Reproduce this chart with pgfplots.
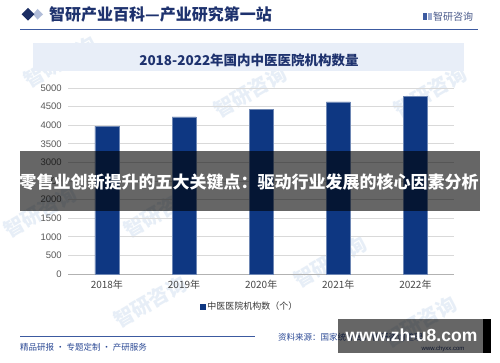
\documentclass[border=0pt]{standalone}
\usepackage{fontspec}
\usepackage{pgfplots}
\pgfplotsset{compat=1.18}
\setmainfont{Noto Sans CJK SC}
\newfontfamily\lsans{Liberation Sans}
\definecolor{barblue}{RGB}{14,55,130}
\definecolor{navy}{RGB}{30,50,110}
\definecolor{linebl}{RGB}{60,90,160}
\definecolor{boxbl}{RGB}{232,238,248}
\definecolor{ticktxt}{RGB}{89,89,89}
\definecolor{gridc}{RGB}{217,217,217}
\definecolor{footbl}{RGB}{45,75,150}
\definecolor{wm}{RGB}{215,228,242}
\begin{document}
\begin{tikzpicture}[x=1pt,y=1pt]
\useasboundingbox (0,0) rectangle (500,362);
\fill[white] (0,0) rectangle (500,362);
% faint watermarks
\foreach \px/\py in {60/300,250/270,430/270,160/150,330/100,150/60,420/40,40/150}{
  \node[rotate=30,text=wm,font=\bfseries\fontsize{20}{20}\selectfont,opacity=0.6] at (\px,\py) {智研咨询};
}
% header
\fill[linebl!40] (33,362-14.3) -- (37.5,362-9) -- (43,362-14.3) -- (37.5,362-19.6) -- cycle;
\fill[navy!90!black] (21.7,362-14.3) -- (28,362-8) -- (34.3,362-14.3) -- (28,362-20.6) -- cycle;
\node[anchor=west,inner sep=0pt,text=navy,font=\bfseries\fontsize{16}{16}\selectfont] at (49,362-14.5) {智研产业百科—产业研究第一站};
\draw[linebl,line width=1pt] (20,362-29.3) -- (478,362-29.3);
\fill[linebl] (423,362-20) rectangle (427,362-13);
\fill[linebl!50] (428,362-20) rectangle (432,362-13);
\node[anchor=west,inner sep=0pt,text=navy!80,font=\fontsize{10}{10}\selectfont] at (433,362-17) {智研咨询};
% title box
\fill[boxbl] (33,362-71) rectangle (464,362-43);
\node[text=navy,font=\bfseries\fontsize{13.5}{13.5}\selectfont,inner sep=0pt] at (249,362-60.5) {2018-2022年国内中医医院机构数量};
% chart
\begin{axis}[
  at={(68.3pt,88pt)}, anchor=south west,
  scale only axis, width=385.7pt, height=186pt,
  xmin=-0.5, xmax=4.5, ymin=0, ymax=5000,
  ytick={0,500,...,5000},
  xtick={0,1,2,3,4},
  xticklabels={2018年,2019年,2020年,2021年,2022年},
  axis line style={draw=none},
  axis x line*=bottom,
  x axis line style={draw=gray!60, line width=0.8pt},
  ymajorgrids, grid style={gridc, line width=0.7pt},
  major tick length=0pt,
  /pgf/number format/assume math mode=true,
  /pgf/number format/set thousands separator={},
  yticklabel style={font=\lsans\fontsize{9.5}{9.5}\selectfont, text=ticktxt, xshift=-3pt},
  xticklabel style={font=\fontsize{10}{10}\selectfont, text=ticktxt!80!black, yshift=-3pt},
  legend style={at={(0.47,-0.176)}, anchor=center, draw=none, fill=none,
    font=\fontsize{9}{9}\selectfont, text=ticktxt!60!black, inner sep=0pt},
  legend image code/.code={\fill[barblue] (0pt,-2.6pt) rectangle (5.2pt,2.6pt);},
]
\addplot[ybar, bar width=24pt, fill=barblue, draw=barblue!60!white, line width=0.3pt] coordinates {
  (0,3977) (1,4221) (2,4426) (3,4630) (4,4779)
};
\addlegendentry{中医医院机构数（个）}
\end{axis}
% overlay band
\fill[black,opacity=0.6] (20,362-211) rectangle (480,362-151);
\node[text=white,font=\bfseries\fontsize{17}{17}\selectfont,inner sep=0pt] at (249,362-182) {零售业创新提升的五大关键点：驱动行业发展的核心因素分析};
% footer
\draw[linebl,line width=1pt] (20,362-336.7) -- (255,362-336.7);
\node[anchor=west,inner sep=0pt,text=footbl,font=\fontsize{8.5}{8.5}\selectfont] at (20,362-347) {精品研报 · 专题定制 · 产研服务};
\node[anchor=west,inner sep=0pt,text=footbl,font=\fontsize{8.5}{8.5}\selectfont] at (278,362-337) {资料来源：国家统计局，智研咨询整理};
\node[inner sep=0pt,text=navy,font=\lsans\fontsize{6}{6}\selectfont] at (443,362-349) {www.chyxx.com};
\fill[black,opacity=0.6] (338,362-353) rectangle (483,362-319);
\fill[black] (483,362-353) rectangle (491,362-319);
\node[text=white,font=\lsans\bfseries\fontsize{17.5}{17.5}\selectfont,inner sep=0pt] at (411.5,362-335) {www.zh-u8.com};
\end{tikzpicture}
\end{document}
